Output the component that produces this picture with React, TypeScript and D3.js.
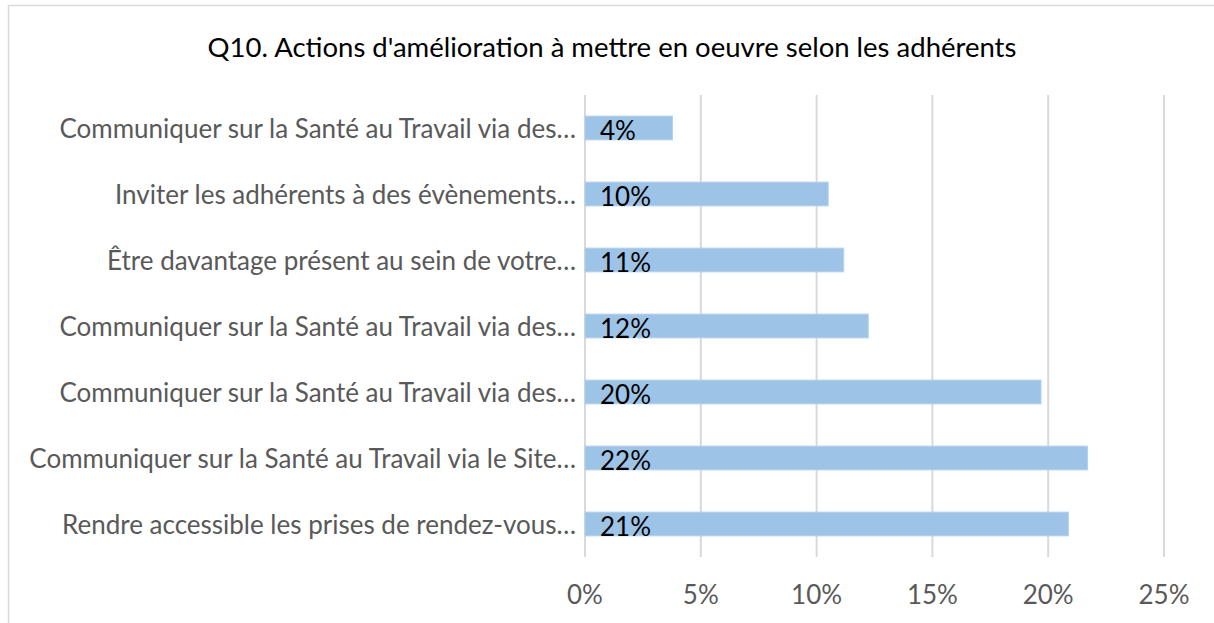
import React from 'react';
import * as d3 from 'd3';

// category labels, top to bottom as shown
const categories = [
  'Communiquer sur la Santé au Travail via des…',
  'Inviter les adhérents à des évènements…',
  'Être davantage présent au sein de votre…',
  'Communiquer sur la Santé au Travail via des…',
  'Communiquer sur la Santé au Travail via des…',
  'Communiquer sur la Santé au Travail via le Site…',
  'Rendre accessible les prises de rendez-vous…',
];
const values = [0.0378, 0.105, 0.1117, 0.1223, 0.1969, 0.217, 0.2087];
const valueLabels = ['4%', '10%', '11%', '12%', '20%', '22%', '21%'];
const ticks = [0, 0.05, 0.1, 0.15, 0.2, 0.25];
const title = "Q10. Actions d'amélioration à mettre en oeuvre selon les adhérents";

const W = 1214;
const H = 623;
const FONT = 'Lato, "Open Sans", sans-serif';

const App = () => {
  const x = d3.scaleLinear().domain([0, 0.25]).range([585, 1164]);
  const y = d3.scaleBand<number>()
    .domain(d3.range(categories.length))
    .range([95, 557])
    .paddingInner(0.64)
    .paddingOuter(0.32);
  const fmt = d3.format('.0%');

  return (
    <svg width={W} height={H} style={{ position: 'absolute', left: 0, top: 0, background: '#fff' }}>
      <rect x={8.5} y={5.5} width={W} height={H} fill="#fff" stroke="#d9d9d9" strokeWidth={1.5} />

      <text x={612} y={46} textAnchor="middle" dominantBaseline="central"
        fontFamily={FONT} fontSize={27.5} fill="#000">{title}</text>

      {/* gridlines */}
      {ticks.map(t => (
        <line key={t} x1={x(t)} x2={x(t)} y1={95} y2={557} stroke="#d9d9d9" strokeWidth={2} />
      ))}

      {/* bars */}
      {values.map((v, i) => (
        <rect key={i} x={x(0)} y={y(i)} width={x(v) - x(0)} height={y.bandwidth()}
          fill="#9dc3e6" stroke="#b4d1ec" strokeWidth={1} />
      ))}

      {/* data labels, inside base */}
      {valueLabels.map((l, i) => (
        <text key={i} x={x(0) + 15} y={y(i)! + y.bandwidth() / 2 + 2} dominantBaseline="central"
          fontFamily={FONT} fontSize={26} fill="#000">{l}</text>
      ))}

      {/* category labels */}
      {categories.map((c, i) => (
        <text key={i} x={x(0) - 9} y={y(i)! + y.bandwidth() / 2} textAnchor="end" dominantBaseline="central"
          fontFamily={FONT} fontSize={26} fill="#595959">{c}</text>
      ))}

      {/* x tick labels */}
      {ticks.map(t => (
        <text key={t} x={x(t)} y={594} textAnchor="middle" dominantBaseline="central"
          fontFamily={FONT} fontSize={26} fill="#595959">{fmt(t)}</text>
      ))}
    </svg>
  );
};

export default App;
